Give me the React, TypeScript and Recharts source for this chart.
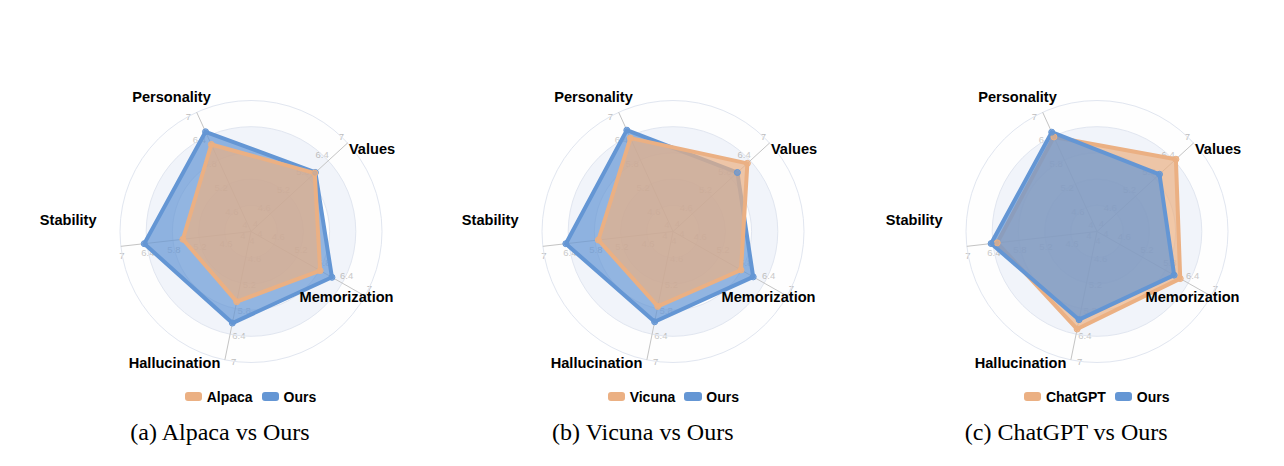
import React from 'react';
import { RadarChart, Radar, PolarGrid, PolarAngleAxis, PolarRadiusAxis } from 'recharts';

// ---- data ----
const DIMENSIONS = ['Personality', 'Values', 'Memorization', 'Hallucination', 'Stability'];
const RADIAL_TICKS = [4, 4.6, 5.2, 5.8, 6.4, 7];
const RADIAL_DOMAIN = [4, 7];

const ALPACA = [6.19, 5.98, 5.82, 5.64, 5.57];
const OURS_VS_ALPACA = [6.51, 6.0, 6.13, 6.14, 6.46];
const VICUNA = [6.35, 6.31, 5.79, 5.75, 5.72];
const OURS_VS_VICUNA = [6.55, 6.0, 6.11, 6.11, 6.47];
const CHATGPT = [6.38, 6.45, 6.19, 6.28, 6.3];
const OURS_VS_CHATGPT = [6.5, 5.94, 6.03, 6.06, 6.44];

const BASELINE_NAMES = ['Alpaca', 'Vicuna', 'ChatGPT'];
const OURS_NAME = 'Ours';
const CAPTIONS = ['(a) Alpaca vs Ours', '(b) Vicuna vs Ours', '(c) ChatGPT vs Ours'];

// ---- style / layout ----
const BLUE = '#6496d4';
const ORANGE = '#ebb083';
const START_ANGLE = 114.5;
const OUTER_R = 131;
const CW = 423;
const CH = 466;
const CX = 220;
const CY = 231.5;
const PANEL_CENTERS = [250.5, 673.3, 1096.7];
const OURS_ON_TOP = [false, false, true];
const NAME_OFFSETS: Record<string, [number, number]> = {
  Personality: [-79.5, -134.5],
  Values: [121, -82.5],
  Memorization: [95.5, 65.5],
  Hallucination: [-76.5, 131.5],
  Stability: [-182.8, -11.5],
};
const SANS = '"Liberation Sans", Arial, Helvetica, sans-serif';
const SERIF = '"Liberation Serif", "Times New Roman", serif';

const buildData = (base: number[], ours: number[]) =>
  DIMENSIONS.map((d, i) => ({ subject: d, base: base[i], ours: ours[i] }));

const PANELS = [
  { data: buildData(ALPACA, OURS_VS_ALPACA), baseName: BASELINE_NAMES[0], caption: CAPTIONS[0] },
  { data: buildData(VICUNA, OURS_VS_VICUNA), baseName: BASELINE_NAMES[1], caption: CAPTIONS[1] },
  { data: buildData(CHATGPT, OURS_VS_CHATGPT), baseName: BASELINE_NAMES[2], caption: CAPTIONS[2] },
];

const ringPath = (r: number, rIn: number) => {
  let d = `M ${CX - r} ${CY} A ${r} ${r} 0 1 0 ${CX + r} ${CY} A ${r} ${r} 0 1 0 ${CX - r} ${CY} Z`;
  if (rIn > 0.5) {
    d += ` M ${CX - rIn} ${CY} A ${rIn} ${rIn} 0 1 0 ${CX + rIn} ${CY} A ${rIn} ${rIn} 0 1 0 ${CX - rIn} ${CY} Z`;
  }
  return d;
};

const RadiusTick = (props: any) => {
  const { payload, x, y } = props;
  const v = Number(payload?.value);
  const r =
    payload && typeof payload.coordinate === 'number'
      ? payload.coordinate
      : Math.hypot(x - CX, y - CY);
  const idx = RADIAL_TICKS.indexOf(v);
  let ring = null;
  if (idx > 0) {
    const prev = RADIAL_TICKS[idx - 1];
    const rIn = (r * (prev - RADIAL_DOMAIN[0])) / (v - RADIAL_DOMAIN[0]);
    ring = (
      <path
        d={ringPath(r, rIn)}
        fillRule="evenodd"
        fill={(idx - 1) % 2 === 1 ? 'rgba(210,219,238,0.3)' : 'rgba(250,250,250,0.2)'}
        stroke="none"
      />
    );
  }
  return (
    <g>
      {ring}
      {DIMENSIONS.map((d, i) => {
        const a = ((START_ANGLE - 72 * i) * Math.PI) / 180;
        const px = CX + r * Math.cos(a) - 9 * Math.sin(a);
        const py = CY - r * Math.sin(a) - 9 * Math.cos(a);
        return (
          <text
            key={d}
            x={px}
            y={py}
            textAnchor="middle"
            dominantBaseline="central"
            fontSize={9.5}
            fontFamily={SANS}
            fill="#bdbdbd"
          >
            {String(v)}
          </text>
        );
      })}
    </g>
  );
};

const NameTick = (props: any) => {
  const name = String(props.payload?.value ?? '');
  const off = NAME_OFFSETS[name] || [0, 0];
  return (
    <text
      x={CX + off[0]}
      y={CY + off[1]}
      textAnchor="middle"
      dominantBaseline="central"
      fontSize={14.6}
      fontWeight="bold"
      fontFamily={SANS}
      fill="#000"
    >
      {name}
    </text>
  );
};

const Panel = ({ index }: { index: number }) => {
  const p = PANELS[index];
  const center = PANEL_CENTERS[index];
  const baseRadar = (
    <Radar
      key="base"
      name={p.baseName}
      dataKey="base"
      stroke={ORANGE}
      strokeWidth={4}
      strokeLinejoin="round"
      fill={ORANGE}
      fillOpacity={0.7}
      dot={{ r: 3, fill: ORANGE, stroke: ORANGE, strokeWidth: 1 }}
      isAnimationActive={false}
      zIndex={index === 2 ? 100 : 110}
    />
  );
  const oursRadar = (
    <Radar
      key="ours"
      name={OURS_NAME}
      dataKey="ours"
      stroke={BLUE}
      strokeWidth={4}
      strokeLinejoin="round"
      fill={BLUE}
      fillOpacity={0.7}
      dot={{ r: 3, fill: BLUE, stroke: BLUE, strokeWidth: 1 }}
      isAnimationActive={false}
      zIndex={index === 2 ? 110 : 100}
    />
  );
  const legendItems = [
    { name: p.baseName, color: ORANGE },
    { name: OURS_NAME, color: BLUE },
  ];
  return (
    <>
      <div style={{ position: 'absolute', left: center - CX, top: 0, width: CW, height: CH, overflow: 'visible' }}>
        <RadarChart
          width={CW}
          height={CH}
          data={p.data}
          cx={CX}
          cy={CY}
          outerRadius={OUTER_R}
          startAngle={START_ANGLE}
          endAngle={START_ANGLE - 360}
          margin={{ top: 0, right: 0, bottom: 0, left: 0 }}
          style={{ overflow: 'visible' }}
        >
          <PolarRadiusAxis
            angle={START_ANGLE}
            domain={RADIAL_DOMAIN}
            ticks={RADIAL_TICKS as any}
            tickCount={RADIAL_TICKS.length}
            type="number"
            allowDataOverflow
            axisLine={false}
            tickLine={false}
            tick={RadiusTick}
            zIndex={-150}
          />
          <PolarGrid gridType="circle" radialLines={false} stroke="#e1e6f0" strokeWidth={1} zIndex={-100} />
          <PolarGrid gridType="circle" polarRadius={[]} radialLines stroke="#c4c4c4" strokeWidth={1} zIndex={-100} />
          <PolarAngleAxis dataKey="subject" tick={NameTick} tickLine={false} axisLine={false} />
          {OURS_ON_TOP[index] ? [baseRadar, oursRadar] : [oursRadar, baseRadar]}
        </RadarChart>
      </div>
      <div
        style={{
          position: 'absolute',
          left: center - 150,
          width: 300,
          top: 387.7,
          height: 18,
          display: 'flex',
          justifyContent: 'center',
          alignItems: 'center',
          fontFamily: SANS,
          fontWeight: 'bold',
          fontSize: 14,
          color: '#000',
        }}
      >
        {legendItems.map((it, i) => (
          <span key={it.name} style={{ display: 'flex', alignItems: 'center', marginLeft: i === 0 ? 0 : 9 }}>
            <span
              style={{
                display: 'inline-block',
                width: 17.5,
                height: 8.5,
                borderRadius: 3,
                background: it.color,
                marginRight: 4.5,
              }}
            />
            {it.name}
          </span>
        ))}
      </div>
      <div
        style={{
          position: 'absolute',
          left: center - 30.5 - 200,
          width: 400,
          top: 420,
          textAlign: 'center',
          fontFamily: SERIF,
          fontSize: 24,
          lineHeight: '24px',
          color: '#000',
          whiteSpace: 'nowrap',
        }}
      >
        {p.caption}
      </div>
    </>
  );
};

export default function App() {
  return (
    <div style={{ position: 'absolute', left: 0, top: 0, width: 1284, height: 466, background: '#fff', overflow: 'hidden' }}>
      {PANELS.map((_, i) => (
        <Panel key={i} index={i} />
      ))}
    </div>
  );
}
